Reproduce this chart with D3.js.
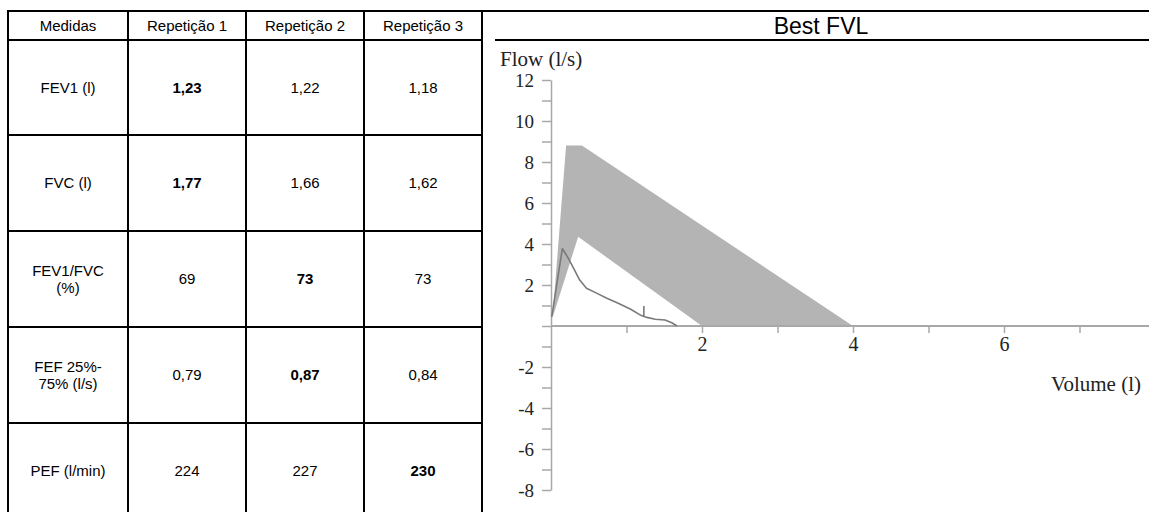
<!DOCTYPE html>
<html>
<head>
<meta charset="utf-8">
<script src="https://cdn.jsdelivr.net/npm/d3@7"></script>
<style>
  html, body { margin: 0; padding: 0; background: #fff; }
  svg { display: block; }
</style>
</head>
<body>
<svg id="page" width="1149" height="512"></svg>
<script>
// Spirometry results: table of three trials and the best flow-volume loop
const headers = ["Medidas", "Repetição 1", "Repetição 2", "Repetição 3"];
const measures = [["FEV1 (l)"], ["FVC (l)"], ["FEV1/FVC", "(%)"], ["FEF 25%-", "75% (l/s)"], ["PEF (l/min)"]];
const rep1 = ["1,23", "1,77", "69", "0,79", "224"];
const rep2 = ["1,22", "1,66", "73", "0,87", "227"];
const rep3 = ["1,18", "1,62", "73", "0,84", "230"];
const bestRep = [0, 0, 1, 1, 2];   // which trial is shown in bold for each measure

// Predicted normal band (volume l, flow l/s), outline of the shaded region
const bandVolume = [0.02, 0.20, 0.41, 4.00, 2.00, 0.36, 0.02];
const bandFlow   = [0.40, 8.80, 8.80, 0.00, 0.00, 4.35, 0.40];

// Measured expiratory curve
const curveVolume = [0.01, 0.15, 0.23, 0.30, 0.38, 0.47, 0.61, 0.74, 0.89, 1.05, 1.18, 1.27, 1.38, 1.51, 1.60, 1.67];
const curveFlow   = [0.45, 3.78, 3.30, 2.81, 2.24, 1.84, 1.59, 1.35, 1.11, 0.83, 0.54, 0.42, 0.33, 0.29, 0.16, 0.00];

// FEV1 marker on the curve
const fev1Volume = 1.23;
const fev1Flow = [0.45, 0.98];

const xTicks = [1, 2, 3, 4, 5, 6, 7];
const xLabels = [2, 4, 6];
const yTicks = d3.range(-8, 13);

const svg = d3.select("#page");
const sans = "'Liberation Sans', Arial, sans-serif";
const serif = "'Liberation Serif', 'Times New Roman', serif";

// ---------- table ----------
const colX = [8, 128, 246, 364, 482];
const rowY = [11, 40, 135, 231, 327, 423, 519];
const tableRight = 1160;

const grid = svg.append("g").attr("stroke", "#000").attr("stroke-width", 2);
// outer top and title line
grid.append("line").attr("x1", colX[0]).attr("x2", tableRight).attr("y1", rowY[0]).attr("y2", rowY[0]);
grid.append("line").attr("x1", colX[0]).attr("x2", colX[4]).attr("y1", rowY[1]).attr("y2", rowY[1]);
grid.append("line").attr("x1", 495).attr("x2", tableRight).attr("y1", rowY[1]).attr("y2", rowY[1]);
rowY.slice(2, 6).forEach(y => {
  grid.append("line").attr("x1", colX[0]).attr("x2", colX[4]).attr("y1", y).attr("y2", y);
});
colX.forEach(x => {
  grid.append("line").attr("x1", x).attr("x2", x).attr("y1", rowY[0] - 1).attr("y2", 512);
});

const colCenter = i => (colX[i] + colX[i + 1]) / 2;
const rowCenter = j => (rowY[j] + rowY[j + 1]) / 2;

svg.append("g").selectAll("text").data(headers).join("text")
  .attr("x", (d, i) => colCenter(i))
  .attr("y", rowCenter(0))
  .attr("dy", "0.35em")
  .attr("text-anchor", "middle")
  .attr("font-family", sans).attr("font-size", 15)
  .text(d => d);

const body = svg.append("g").attr("font-family", sans).attr("font-size", 15).attr("text-anchor", "middle");
measures.forEach((lines, j) => {
  const cy = rowCenter(j + 1);
  const t = body.append("text").attr("x", colCenter(0)).attr("y", cy - (lines.length - 1) * 8.5).attr("dy", "0.35em");
  lines.forEach((ln, k) => {
    t.append("tspan").attr("x", colCenter(0)).attr("dy", k === 0 ? "0.35em" : "17").text(ln);
  });
  [rep1, rep2, rep3].forEach((rep, r) => {
    body.append("text")
      .attr("x", colCenter(r + 1)).attr("y", cy).attr("dy", "0.35em")
      .attr("font-weight", bestRep[j] === r ? "bold" : "normal")
      .text(rep[j]);
  });
});

// ---------- chart ----------
svg.append("text")
  .attr("x", (colX[4] + tableRight) / 2).attr("y", rowCenter(0)).attr("dy", "0.35em")
  .attr("text-anchor", "middle").attr("font-family", sans).attr("font-size", 23)
  .text("Best FVL");

const x = d3.scaleLinear().domain([0, 8]).range([551, 1155]);
const y = d3.scaleLinear().domain([-8, 12]).range([490, 80]);

// shaded predicted band
const band = bandVolume.map((v, i) => [x(v), y(bandFlow[i])]);
svg.append("path")
  .attr("d", d3.line()(band) + "Z")
  .attr("fill", "#b4b4b4").attr("stroke", "none");

// x axis
const gx = svg.append("g").attr("transform", `translate(0,${y(0)})`)
  .call(d3.axisBottom(x).tickValues(xTicks).tickSize(7).tickSizeOuter(0)
    .tickFormat(d => xLabels.includes(d) ? d : ""));
gx.select(".domain").attr("d", `M${x(0)},0H1149`).attr("stroke", "#a8a8a8").attr("stroke-width", 2);
gx.selectAll(".tick line").attr("stroke", "#a8a8a8").attr("stroke-width", 1.5);
gx.selectAll(".tick text").attr("font-family", serif).attr("font-size", 20).attr("fill", "#222").attr("dy", "0.75em");

// y axis
const gy = svg.append("g").attr("transform", `translate(${x(0)},0)`)
  .call(d3.axisLeft(y).tickValues(yTicks).tickSize(9).tickSizeOuter(0)
    .tickFormat(d => (d % 2 === 0 && d !== 0) ? d : ""));
gy.select(".domain").attr("stroke", "#a8a8a8").attr("stroke-width", 1.5);
gy.selectAll(".tick line").attr("stroke", "#a8a8a8").attr("stroke-width", 1.5);
gy.selectAll(".tick text").attr("font-family", serif).attr("font-size", 19).attr("fill", "#222").attr("x", -17);

// axis titles
svg.append("text").attr("x", 500).attr("y", 66)
  .attr("font-family", serif).attr("font-size", 21).attr("fill", "#222").text("Flow (l/s)");
svg.append("text").attr("x", 1141).attr("y", 391).attr("text-anchor", "end")
  .attr("font-family", serif).attr("font-size", 21).attr("fill", "#222").text("Volume (l)");

// measured curve
const curve = curveVolume.map((v, i) => [x(v), y(curveFlow[i])]);
svg.append("path")
  .attr("d", d3.line()(curve))
  .attr("fill", "none").attr("stroke", "#7a7a7a").attr("stroke-width", 1.6)
  .attr("stroke-linejoin", "round");

svg.append("line")
  .attr("x1", x(fev1Volume)).attr("x2", x(fev1Volume))
  .attr("y1", y(fev1Flow[0])).attr("y2", y(fev1Flow[1]))
  .attr("stroke", "#7a7a7a").attr("stroke-width", 1.6);
</script>
</body>
</html>
